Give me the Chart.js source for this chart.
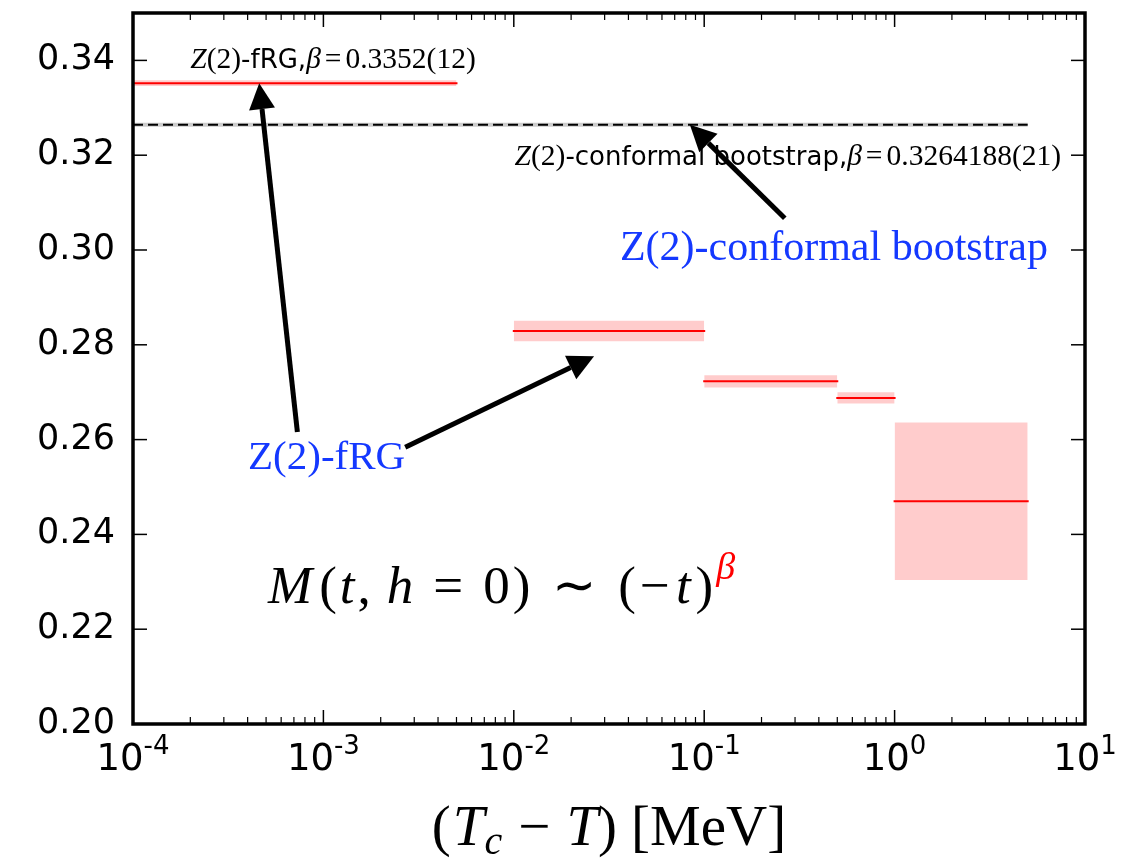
<!DOCTYPE html>
<html>
<head>
<meta charset="utf-8">
<script src="https://cdn.jsdelivr.net/npm/chart.js@4"></script>
<style>
  html, body { margin: 0; padding: 0; background: #fff; }
  #wrap { width: 1135px; height: 859px; }
</style>
</head>
<body>
<div id="wrap"><canvas id="c"></canvas></div>
<script>
// Temperature windows (MeV) and the exponent beta fitted in each window
const segLo   = [1e-4, 0.01, 0.1, 0.5, 1];
const segHi   = [0.005, 0.1, 0.5, 1, 5];
const betaFit = [0.3352, 0.2829, 0.2723, 0.2688, 0.2470];
const betaErr = [0.0006, 0.00215, 0.0013, 0.0012, 0.0166];

// Conformal bootstrap reference value
const bootRange = [1e-4, 5];
const betaBoot  = 0.3264188;

// Axis ticks
const yTicks   = [0.20, 0.22, 0.24, 0.26, 0.28, 0.30, 0.32, 0.34];
const xDecades = [-4, -3, -2, -1, 0, 1];

// Arrows: [tail x, tail y, head x, head y] in data units
const arrowFrom = [[7.3e-4, 0.2616], [2.69e-3, 0.2584], [0.265, 0.3067]];
const arrowTo   = [[4.6e-4, 0.3352], [0.0264, 0.2776], [0.0841, 0.3264]];

const SERIF = '"Liberation Serif", "Times New Roman", serif';
const SANS  = '"DejaVu Sans", sans-serif';
const BLUE  = '#1438ff';

const datasets = [];
// error bands
segLo.forEach((lo, i) => {
  const hi = segHi[i];
  datasets.push({
    data: [{x: lo, y: betaFit[i] + betaErr[i]}, {x: hi, y: betaFit[i] + betaErr[i]}],
    borderWidth: 0, pointRadius: 0, fill: '+1',
    backgroundColor: 'rgba(255,0,0,0.2)', borderColor: 'rgba(0,0,0,0)'
  });
  datasets.push({
    data: [{x: lo, y: betaFit[i] - betaErr[i]}, {x: hi, y: betaFit[i] - betaErr[i]}],
    borderWidth: 0, pointRadius: 0, fill: false, borderColor: 'rgba(0,0,0,0)'
  });
});
// bootstrap value: grey underlay + dashed line
datasets.push({
  data: bootRange.map(x => ({x, y: betaBoot})),
  borderColor: 'rgba(0,0,0,0.2)', borderWidth: 4, pointRadius: 0, fill: false
});
datasets.push({
  data: bootRange.map(x => ({x, y: betaBoot})),
  borderColor: '#000', borderWidth: 2, borderDash: [10, 5], pointRadius: 0, fill: false
});
// central values
segLo.forEach((lo, i) => {
  datasets.push({
    data: [{x: lo, y: betaFit[i]}, {x: segHi[i], y: betaFit[i]}],
    borderColor: '#ff0000', borderWidth: 2, pointRadius: 0, fill: false,
    borderCapStyle: 'square'
  });
});

// draw a run of text pieces with individual fonts / colours / offsets
function drawRich(ctx, x, y, parts, align) {
  let w = 0;
  parts.forEach(p => { ctx.font = p.f; w += ctx.measureText(p.t).width + (p.g || 0); });
  let cx = align === 'center' ? x - w / 2 : x;
  ctx.textBaseline = 'alphabetic';
  ctx.textAlign = 'left';
  parts.forEach(p => {
    ctx.font = p.f;
    ctx.fillStyle = p.c || '#000';
    ctx.fillText(p.t, cx, y + (p.dy || 0));
    cx += ctx.measureText(p.t).width + (p.g || 0);
  });
}

function arrow(ctx, x0, y0, x1, y1) {
  const ang = Math.atan2(y1 - y0, x1 - x0);
  const hl = 26, hw = 13;
  const bx = x1 - hl * Math.cos(ang), by = y1 - hl * Math.sin(ang);
  ctx.save();
  ctx.strokeStyle = '#000'; ctx.fillStyle = '#000'; ctx.lineWidth = 5;
  ctx.beginPath(); ctx.moveTo(x0, y0); ctx.lineTo(bx, by); ctx.stroke();
  ctx.beginPath();
  ctx.moveTo(x1, y1);
  ctx.lineTo(bx + hw * Math.sin(ang), by - hw * Math.cos(ang));
  ctx.lineTo(bx - hw * Math.sin(ang), by + hw * Math.cos(ang));
  ctx.closePath(); ctx.fill();
  ctx.restore();
}

const decorations = {
  id: 'decorations',
  afterDatasetsDraw(chart) {
    const {ctx, scales: {x, y}} = chart;
    ctx.save();
    // annotation labels
    const s1 = 29.5, s2 = 26;
    drawRich(ctx, x.getPixelForValue(2.0e-4), y.getPixelForValue(0.3385), [
      {t: 'Z', f: `italic ${s1}px ${SERIF}`},
      {t: '(2)', f: `${s1}px ${SERIF}`},
      {t: '-fRG,', f: `${s2}px ${SANS}`},
      {t: 'β', f: `italic ${s1}px ${SERIF}`, g: 4},
      {t: '=', f: `${s1}px ${SERIF}`, g: 4},
      {t: '0.3352(12)', f: `${s1}px ${SERIF}`}
    ]);
    drawRich(ctx, x.getPixelForValue(0.0101), y.getPixelForValue(0.318), [
      {t: 'Z', f: `italic ${s1}px ${SERIF}`},
      {t: '(2)', f: `${s1}px ${SERIF}`},
      {t: '-conformal bootstrap,', f: `${s2}px ${SANS}`},
      {t: 'β', f: `italic ${s1}px ${SERIF}`, g: 4},
      {t: '=', f: `${s1}px ${SERIF}`, g: 4},
      {t: '0.3264188(21)', f: `${s1}px ${SERIF}`}
    ]);
    drawRich(ctx, x.getPixelForValue(0.0361), y.getPixelForValue(0.2978), [
      {t: 'Z(2)-conformal bootstrap', f: `42px ${SERIF}`, c: BLUE}
    ]);
    drawRich(ctx, x.getPixelForValue(4.02e-4), y.getPixelForValue(0.2538), [
      {t: 'Z(2)-fRG', f: `41px ${SERIF}`, c: BLUE}
    ]);
    const m = 53;
    drawRich(ctx, x.getPixelForValue(5.12e-4), y.getPixelForValue(0.2255), [
      {t: 'M', f: `italic ${m}px ${SERIF}`, g: 7},
      {t: '(', f: `${m}px ${SERIF}`, g: 3},
      {t: 't', f: `italic ${m}px ${SERIF}`, g: 3},
      {t: ',', f: `${m}px ${SERIF}`, g: 16},
      {t: 'h', f: `italic ${m}px ${SERIF}`, g: 20},
      {t: '=', f: `${m}px ${SERIF}`, g: 20},
      {t: '0', f: `${m}px ${SERIF}`, g: 3},
      {t: ')', f: `${m}px ${SERIF}`, g: 22},
      {t: '∼', f: `${m}px ${SERIF}`, g: 22},
      {t: '(', f: `${m}px ${SERIF}`, g: 4},
      {t: '−', f: `${m}px ${SERIF}`, g: 6},
      {t: 't', f: `italic ${m}px ${SERIF}`, g: 5},
      {t: ')', f: `${m}px ${SERIF}`, g: 3},
      {t: 'β', f: `italic ${Math.round(m * 0.72)}px ${SERIF}`, c: '#ff0000', dy: -24}
    ]);
    // arrows
    arrowFrom.forEach((f, i) => {
      const t = arrowTo[i];
      arrow(ctx, x.getPixelForValue(f[0]), y.getPixelForValue(f[1]),
                 x.getPixelForValue(t[0]), y.getPixelForValue(t[1]));
    });
    ctx.restore();
  },
  afterDraw(chart) {
    const {ctx, chartArea: a, scales: {x, y}} = chart;
    ctx.save();
    ctx.strokeStyle = '#000';
    // inward ticks
    const tick = (x0, y0, x1, y1, w) => {
      ctx.lineWidth = w; ctx.beginPath(); ctx.moveTo(x0, y0); ctx.lineTo(x1, y1); ctx.stroke();
    };
    xDecades.forEach(d => {
      const px = x.getPixelForValue(Math.pow(10, d));
      tick(px, a.bottom, px, a.bottom - 14, 1.5);
      tick(px, a.top, px, a.top + 14, 1.5);
      if (d < 1) {
        for (let k = 2; k <= 9; k++) {
          const qx = x.getPixelForValue(k * Math.pow(10, d));
          tick(qx, a.bottom, qx, a.bottom - 7, 1.2);
          tick(qx, a.top, qx, a.top + 7, 1.2);
        }
      }
    });
    yTicks.forEach(v => {
      const py = y.getPixelForValue(v);
      tick(a.left, py, a.left + 14, py, 1.5);
      tick(a.right, py, a.right - 14, py, 1.5);
    });
    // frame
    ctx.lineWidth = 3.5;
    ctx.strokeRect(a.left, a.top, a.right - a.left, a.bottom - a.top);
    // x tick labels 10^n
    xDecades.forEach(d => {
      const px = x.getPixelForValue(Math.pow(10, d));
      drawRich(ctx, px, a.bottom + 46, [
        {t: '10', f: `37px ${SANS}`},
        {t: String(d), f: `26px ${SANS}`, dy: -16}
      ], 'center');
    });
    // x axis title
    const tf = 57;
    drawRich(ctx, (a.left + a.right) / 2, a.bottom + 121, [
      {t: '(', f: `${tf}px ${SERIF}`, g: 2},
      {t: 'T', f: `italic ${tf}px ${SERIF}`},
      {t: 'c', f: `italic ${Math.round(tf * 0.7)}px ${SERIF}`, dy: 9, g: 16},
      {t: '−', f: `${tf}px ${SERIF}`, g: 16},
      {t: 'T', f: `italic ${tf}px ${SERIF}`},
      {t: ')', f: `${tf}px ${SERIF}`, g: 14},
      {t: '[MeV]', f: `${tf}px ${SERIF}`}
    ], 'center');
    ctx.restore();
  }
};

new Chart(document.getElementById('c'), {
  type: 'line',
  data: { datasets },
  options: {
    responsive: true,
    maintainAspectRatio: false,
    animation: false,
    layout: { padding: { left: 0, right: 50, top: 13, bottom: 0 } },
    plugins: { legend: { display: false }, tooltip: { enabled: false } },
    scales: {
      x: {
        type: 'logarithmic', min: 1e-4, max: 10,
        grid: { display: false, drawTicks: false },
        border: { display: false },
        ticks: { display: false },
        afterFit: s => { s.height = 135; s.paddingLeft = 0; s.paddingRight = 0; }
      },
      y: {
        type: 'linear', min: 0.20, max: 0.35,
        grid: { display: false, drawTicks: false },
        border: { display: false },
        afterBuildTicks: s => { s.ticks = yTicks.map(v => ({ value: v })); },
        ticks: {
          color: '#000', padding: 18,
          font: { family: 'DejaVu Sans', size: 35 },
          callback: v => Number(v).toFixed(2)
        },
        afterFit: s => { s.width = 133; s.paddingTop = 0; s.paddingBottom = 0; }
      }
    }
  },
  plugins: [decorations]
});
</script>
</body>
</html>
